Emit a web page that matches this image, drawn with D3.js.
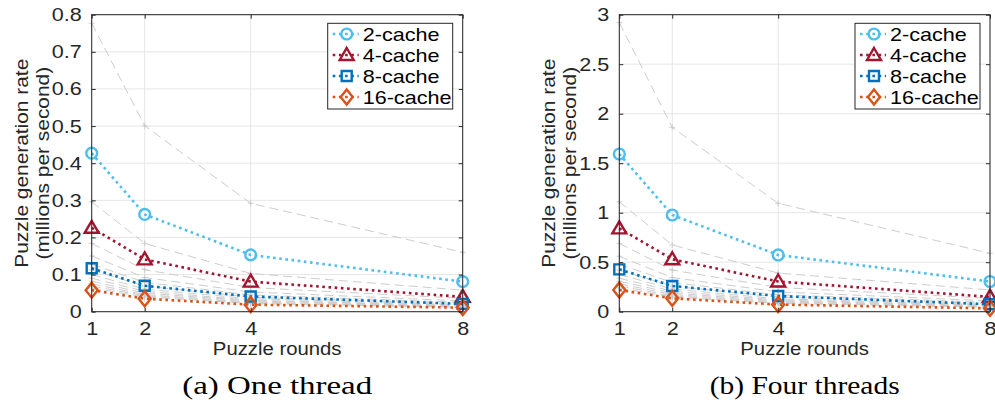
<!DOCTYPE html>
<html>
<head>
<meta charset="utf-8">
<script src="https://cdn.jsdelivr.net/npm/d3@7/dist/d3.min.js"></script>
<style>
  html, body { margin: 0; padding: 0; background: #fff; }
  svg { display: block; }
</style>
</head>
<body>
<svg id="chart" width="995" height="410"></svg>
<script>
// Puzzle rounds on the x axis
const rounds = [1, 2, 4, 8];
const seriesNames = ["2-cache", "4-cache", "8-cache", "16-cache"];

// (a) One thread — millions of puzzles per second
const oneThread2 = [0.427, 0.262, 0.153, 0.081];
const oneThread4 = [0.226, 0.141, 0.081, 0.040];
const oneThread8 = [0.117, 0.070, 0.041, 0.021];
const oneThread16 = [0.058, 0.035, 0.019, 0.011];

// (b) Four threads
const fourThreads2 = [1.593, 0.977, 0.573, 0.305];
const fourThreads4 = [0.842, 0.530, 0.305, 0.150];
const fourThreads8 = [0.428, 0.260, 0.158, 0.075];
const fourThreads16 = [0.219, 0.135, 0.072, 0.034];

// Light dashed reference curves drawn behind the measured series
const oneThreadRef = [
  [0.777, 0.501, 0.292, 0.160],
  [0.296, 0.184, 0.103, 0.058],
  [0.184, 0.113, 0.065, 0.036],
  [0.150, 0.092, 0.053, 0.029],
  [0.128, 0.079, 0.045, 0.025],
  [0.112, 0.069, 0.039, 0.022],
  [0.100, 0.061, 0.035, 0.019],
  [0.090, 0.055, 0.031, 0.017],
  [0.082, 0.050, 0.029, 0.016],
  [0.075, 0.046, 0.026, 0.015],
  [0.069, 0.043, 0.024, 0.013],
  [0.064, 0.040, 0.022, 0.012]
];
const fourThreadsRef = [
  [2.920, 1.862, 1.095, 0.590],
  [1.110, 0.674, 0.390, 0.220],
  [0.690, 0.420, 0.245, 0.135],
  [0.560, 0.345, 0.200, 0.110],
  [0.480, 0.295, 0.170, 0.094],
  [0.420, 0.258, 0.148, 0.082],
  [0.375, 0.230, 0.130, 0.072],
  [0.338, 0.207, 0.118, 0.065],
  [0.308, 0.188, 0.108, 0.059],
  [0.282, 0.173, 0.099, 0.055],
  [0.260, 0.160, 0.091, 0.050],
  [0.240, 0.148, 0.084, 0.046]
];

const oneThreadTicks = [0, 0.1, 0.2, 0.3, 0.4, 0.5, 0.6, 0.7, 0.8];
const fourThreadsTicks = [0, 0.5, 1, 1.5, 2, 2.5, 3];

const colors = ["#4DBEEE", "#A2142F", "#0072BD", "#D95319"];
const markers = ["circle", "triangle", "square", "diamond"];

const svg = d3.select("#chart");
const FONT = "'Liberation Sans', Arial, Helvetica, sans-serif";
const AXIS = "#262626";
const WIDEN = 1.16;   // the figure's sans text is set slightly wide

// widen each text horizontally around its anchor
function widen(sel) {
  sel.each(function () {
    const w = this.getComputedTextLength();
    if (w > 0) {
      this.setAttribute("textLength", w * WIDEN);
      this.setAttribute("lengthAdjust", "spacingAndGlyphs");
    }
  });
}

function markerPath(type) {
  const p = d3.path();
  if (type === "circle") {
    p.arc(0, 0, 5.4, 0, 2 * Math.PI);
  } else if (type === "triangle") {
    p.moveTo(0, -7); p.lineTo(7, 5); p.lineTo(-7, 5); p.closePath();
  } else if (type === "square") {
    p.rect(-5, -5, 10, 10);
  } else {
    p.moveTo(0, -7.5); p.lineTo(6, 0); p.lineTo(0, 7.5); p.lineTo(-6, 0); p.closePath();
  }
  return p.toString();
}

function drawPanel(opts) {
  const { left, right, top, bottom, yMax, yTicks, series, refs, caption } = opts;
  const g = svg.append("g");
  const x = d3.scaleLinear().domain([1, 8]).range([left, right]);
  const y = d3.scaleLinear().domain([0, yMax]).range([bottom, top]);

  // grid
  g.append("g").selectAll("line").data(yTicks).join("line")
    .attr("x1", left).attr("x2", right)
    .attr("y1", d => y(d)).attr("y2", d => y(d))
    .attr("stroke", "#e6e6e6").attr("stroke-width", 1);
  g.append("g").selectAll("line").data(rounds).join("line")
    .attr("y1", top).attr("y2", bottom)
    .attr("x1", d => x(d)).attr("x2", d => x(d))
    .attr("stroke", "#e6e6e6").attr("stroke-width", 1);

  const line = d3.line().x((d, i) => x(rounds[i])).y(d => y(d));

  // reference curves
  const rg = g.append("g");
  refs.forEach(r => {
    rg.append("path").attr("d", line(r))
      .attr("fill", "none").attr("stroke", "#cdcdcd")
      .attr("stroke-width", 1).attr("stroke-dasharray", "9,5");
    rg.selectAll(null).data(r).join("path")
      .attr("d", "M-3,0H3M0,-3V3")
      .attr("transform", (d, i) => `translate(${x(rounds[i])},${y(d)})`)
      .attr("stroke", "#c4c4c4").attr("stroke-width", 0.8);
  });

  // measured series
  series.forEach((s, k) => {
    g.append("path").attr("d", line(s))
      .attr("fill", "none").attr("stroke", colors[k])
      .attr("stroke-width", 2.6).attr("stroke-dasharray", "2.6,3.6");
    g.selectAll(null).data(s).join("path")
      .attr("d", markerPath(markers[k]))
      .attr("transform", (d, i) => `translate(${x(rounds[i])},${y(d)})`)
      .attr("fill", "none").attr("stroke", colors[k]).attr("stroke-width", 2.4);
  });

  // axes box
  g.append("rect").attr("x", left).attr("y", top)
    .attr("width", right - left).attr("height", bottom - top)
    .attr("fill", "none").attr("stroke", AXIS).attr("stroke-width", 1);

  // inward ticks on all four sides
  const yAxisL = d3.axisLeft(y).tickValues(yTicks).tickSize(-4).tickFormat(d3.format("~g")).tickPadding(10);
  const yAxisR = d3.axisRight(y).tickValues(yTicks).tickSize(-4).tickFormat("");
  const xAxisB = d3.axisBottom(x).tickValues(rounds).tickSize(-4).tickFormat(d3.format("d")).tickPadding(10);
  const xAxisT = d3.axisTop(x).tickValues(rounds).tickSize(-4).tickFormat("");

  [[yAxisL, `translate(${left},0)`], [yAxisR, `translate(${right},0)`],
   [xAxisB, `translate(0,${bottom})`], [xAxisT, `translate(0,${top})`]].forEach(([ax, tr]) => {
    const a = g.append("g").attr("transform", tr).call(ax);
    a.select(".domain").remove();
    a.selectAll(".tick line").attr("stroke", AXIS);
    a.selectAll("text").attr("fill", AXIS)
      .style("font-family", FONT).style("font-size", "18.6px");
    widen(a.selectAll("text"));
  });

  const cx = (left + right) / 2;
  const cy = (top + bottom) / 2;

  widen(g.append("text").attr("x", cx).attr("y", 355)
    .attr("text-anchor", "middle").attr("fill", AXIS)
    .style("font-family", FONT).style("font-size", "17.5px")
    .text("Puzzle rounds"));

  widen(g.append("text").attr("transform", `translate(${left - 64},${cy}) rotate(-90)`)
    .attr("text-anchor", "middle").attr("fill", AXIS)
    .style("font-family", FONT).style("font-size", "18px")
    .text("Puzzle generation rate"));
  widen(g.append("text").attr("transform", `translate(${left - 43},${cy}) rotate(-90)`)
    .attr("text-anchor", "middle").attr("fill", AXIS)
    .style("font-family", FONT).style("font-size", "18px")
    .text("(millions per second)"));

  // legend
  const lg = g.append("g").attr("transform", `translate(${right - 135},${top + 8.6})`);
  lg.append("rect").attr("x", 0).attr("y", 0).attr("width", 125).attr("height", 85.7)
    .attr("fill", "#fff").attr("stroke", AXIS).attr("stroke-width", 1);
  seriesNames.forEach((name, k) => {
    const ly = 10.7 + k * 21;
    lg.append("line").attr("x1", 5).attr("x2", 31).attr("y1", ly).attr("y2", ly)
      .attr("stroke", colors[k]).attr("stroke-width", 2.6).attr("stroke-dasharray", "2.6,3.6");
    lg.append("path").attr("d", markerPath(markers[k]))
      .attr("transform", `translate(19,${ly})`)
      .attr("fill", "none").attr("stroke", colors[k]).attr("stroke-width", 2.4);
    widen(lg.append("text").attr("x", 35).attr("y", ly + 7)
      .attr("fill", "#000").style("font-family", FONT).style("font-size", "18.6px")
      .text(name));
  });

  // caption
  g.append("text").attr("x", cx).attr("y", 394)
    .attr("text-anchor", "middle").attr("fill", "#000")
    .style("font-family", "'Liberation Serif', 'Times New Roman', serif").style("font-size", "25px")
    .attr("textLength", 190).attr("lengthAdjust", "spacingAndGlyphs")
    .text(caption);
}

drawPanel({
  left: 91.7, right: 462.7, top: 14.7, bottom: 311.7, yMax: 0.8,
  yTicks: oneThreadTicks,
  series: [oneThread2, oneThread4, oneThread8, oneThread16],
  refs: oneThreadRef, caption: "(a) One thread"
});
drawPanel({
  left: 619.3, right: 990, top: 14.7, bottom: 311.7, yMax: 3,
  yTicks: fourThreadsTicks,
  series: [fourThreads2, fourThreads4, fourThreads8, fourThreads16],
  refs: fourThreadsRef, caption: "(b) Four threads"
});
</script>
</body>
</html>
